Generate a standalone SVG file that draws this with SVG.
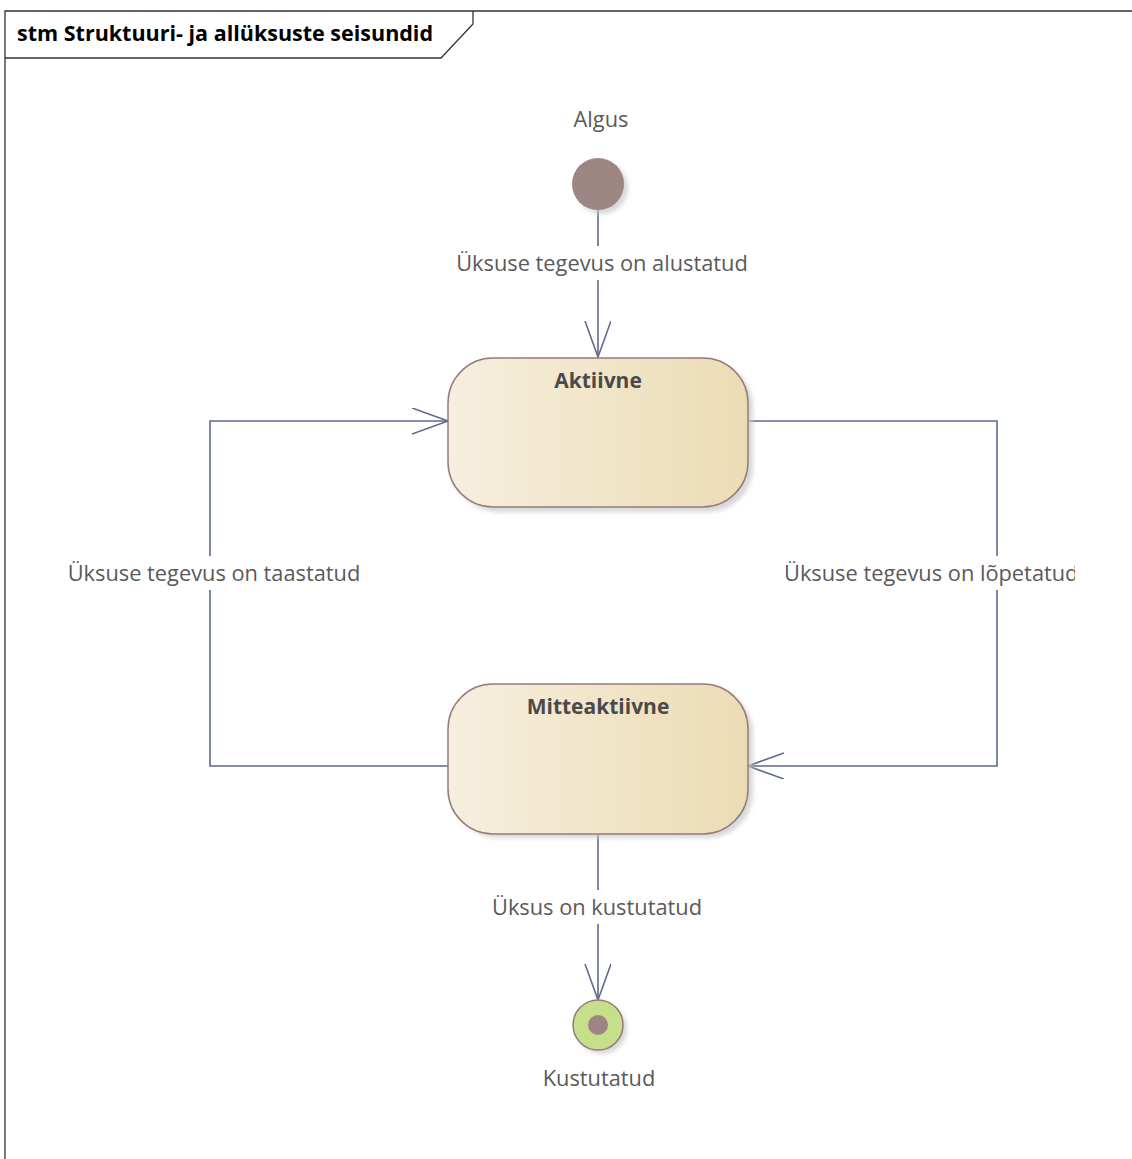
<svg xmlns="http://www.w3.org/2000/svg" width="1132" height="1159" viewBox="0 0 1132 1159">
<style>
.lbl{font-family:"Open Sans","Noto Sans",sans-serif;font-size:21.8px;fill:#5a5a5a}
.nm{font-family:"Open Sans","Noto Sans",sans-serif;font-size:21px;font-weight:bold;fill:#4a4a4a}
.ttl{font-family:"Open Sans","Noto Sans",sans-serif;font-size:21.5px;font-weight:bold;fill:#000}
.st{fill:url(#g);stroke:#957b7d;stroke-width:1.5}
.sh{fill:#c8c8c8;opacity:0.7}
.cn{fill:none;stroke:#5d6a8c;stroke-width:1.6}
</style>
<defs>
<linearGradient id="g" x1="0" y1="0" x2="1" y2="0">
<stop offset="0" stop-color="#f6efdf"/>
<stop offset="1" stop-color="#ecdcb4"/>
</linearGradient>
<filter id="blur" x="-20%" y="-20%" width="140%" height="140%"><feGaussianBlur stdDeviation="2"/></filter>
<marker id="arr" markerWidth="40" markerHeight="30" refX="36" refY="13" orient="auto" markerUnits="userSpaceOnUse">
<path d="M0,0 L36,13 L0,26" fill="none" stroke="#5d6a8c" stroke-width="1.6"/>
</marker>
</defs>
<rect width="1132" height="1159" fill="#fff"/>
<g id="frame">
<path d="M5,1159 L5,11 L1132,11" fill="none" stroke="#333" stroke-width="1.3"/>
<path d="M5,58 L441,58 L473,24 L473,11" fill="none" stroke="#333" stroke-width="1.3"/>
<text class="ttl" x="17" y="41">stm Struktuuri- ja allüksuste seisundid</text>
</g>
<g id="connectors">
<path class="cn" d="M598,210 L598,357" marker-end="url(#arr)"/>
<path class="cn" d="M448,766 L210,766 L210,421 L448,421" marker-end="url(#arr)"/>
<path class="cn" d="M748,421 L997,421 L997,766 L748,766" marker-end="url(#arr)"/>
<path class="cn" d="M598,834 L598,1000" marker-end="url(#arr)"/>
<rect x="445" y="246" width="315" height="34" fill="#fff"/>
<text class="lbl" x="602" y="271" text-anchor="middle">Üksuse tegevus on alustatud</text>
<rect x="55" y="556" width="320" height="34" fill="#fff"/>
<text class="lbl" x="214" y="581" text-anchor="middle">Üksuse tegevus on taastatud</text>
<rect x="775" y="556" width="302" height="34" fill="#fff"/>
<svg x="0" y="0" width="1075" height="1159" overflow="hidden"><text class="lbl" x="784" y="581">Üksuse tegevus on lõpetatud</text></svg>
<rect x="485" y="890" width="228" height="34" fill="#fff"/>
<text class="lbl" x="597" y="915" text-anchor="middle">Üksus on kustutatud</text>
</g>
<g id="Algus">
<circle class="sh" cx="602" cy="188" r="26" filter="url(#blur)"/>
<circle cx="598" cy="184" r="26" fill="#9d8584"/>
<text class="lbl" x="601" y="127" text-anchor="middle">Algus</text>
</g>
<g id="Aktiivne">
<rect class="sh" x="453" y="362" width="300" height="150" rx="45" filter="url(#blur)"/>
<rect class="st" x="448" y="358" width="300" height="149" rx="45"/>
<text class="nm" x="598" y="388" text-anchor="middle">Aktiivne</text>
</g>
<g id="Mitteaktiivne">
<rect class="sh" x="453" y="688" width="300" height="150" rx="45" filter="url(#blur)"/>
<rect class="st" x="448" y="684" width="300" height="150" rx="45"/>
<text class="nm" x="598" y="714" text-anchor="middle">Mitteaktiivne</text>
</g>
<g id="Kustutatud">
<circle class="sh" cx="602" cy="1029" r="25" filter="url(#blur)"/>
<circle cx="598" cy="1025" r="25" fill="#c6df8b" stroke="#957b7d" stroke-width="1.5"/>
<circle cx="598" cy="1025" r="10" fill="#9d8584"/>
<text class="lbl" x="599" y="1086" text-anchor="middle">Kustutatud</text>
</g>
</svg>
